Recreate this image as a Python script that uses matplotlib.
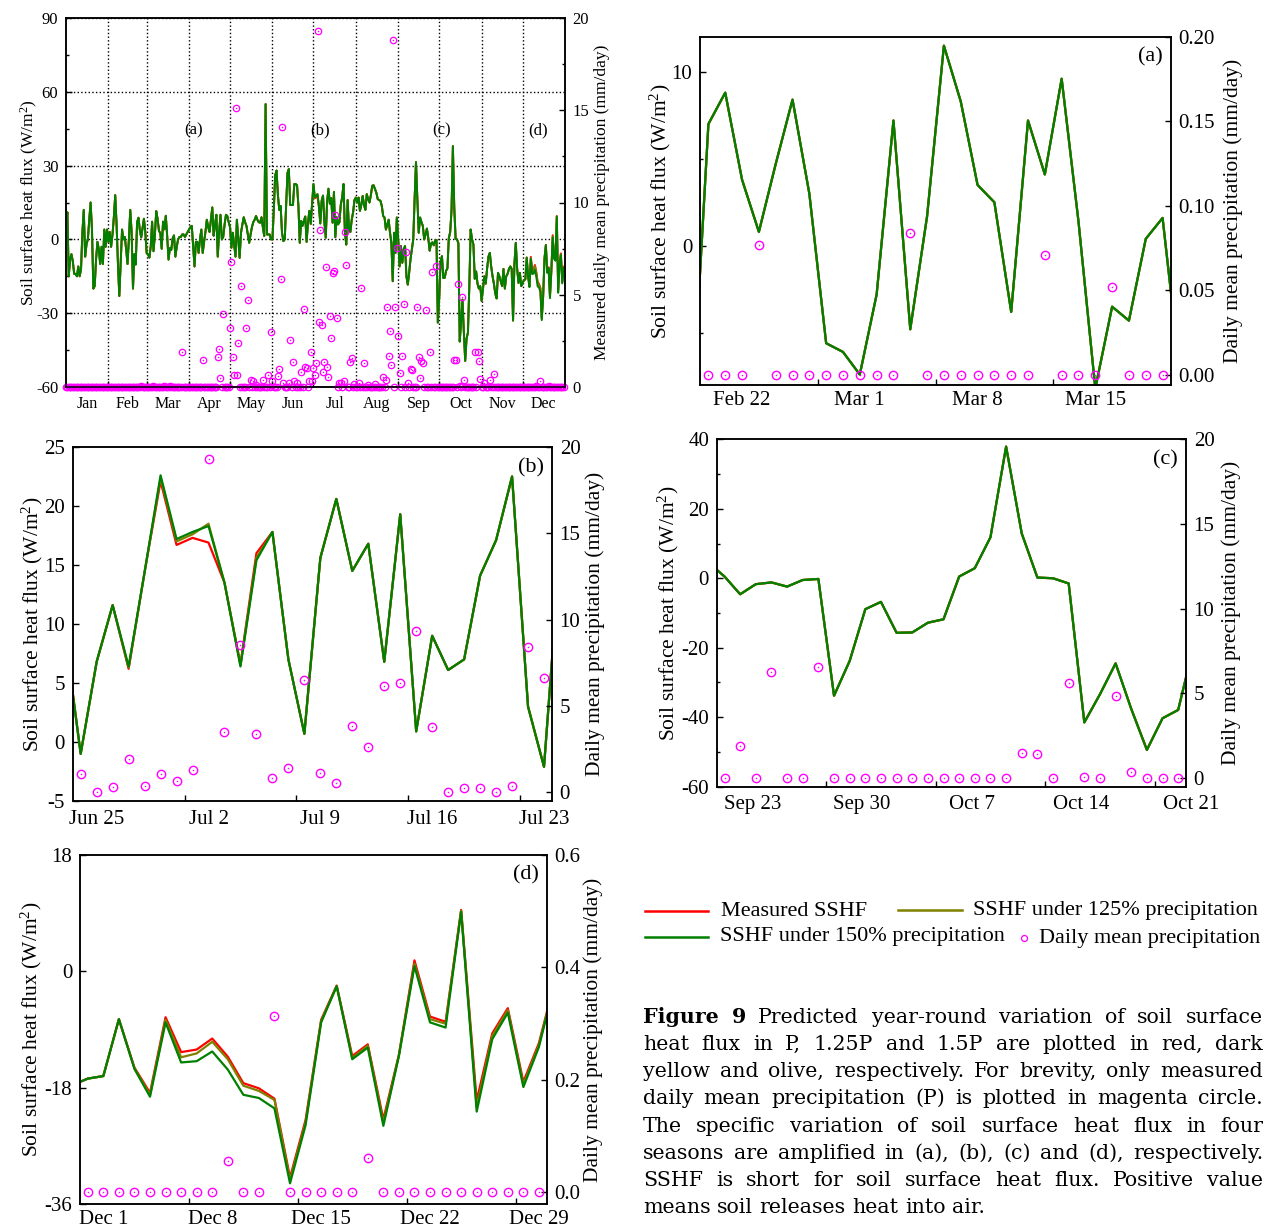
import numpy as np
import matplotlib
matplotlib.use("Agg")
import matplotlib.pyplot as plt
from matplotlib.lines import Line2D
from matplotlib.ticker import MultipleLocator, FormatStrFormatter

plt.rcParams['font.family'] = ['Liberation Serif', 'DejaVu Serif']
plt.rcParams['mathtext.fontset'] = 'custom'
plt.rcParams['mathtext.rm'] = 'Liberation Serif'
plt.rcParams['mathtext.it'] = 'Liberation Serif:italic'
plt.rcParams['axes.unicode_minus'] = False
plt.rcParams['axes.linewidth'] = 1.1

RED, OLIVE, GREEN, MAGENTA = '#ff0000', '#808000', '#008000', '#ff00ff'

# ---------------- year-round daily series (day 0 = Jan 1) ----------------
year_sshf = np.array([
    5, 11, -15, -8, -6, -9, -14, -14, -15, -11,
    -15, -12, 3, 12, -7, -2, 0, 8, 15, 4,
    -20, -19, -8, -1, -4, -10, -3, -10, 4, -3,
    4, -1, 3, -3, 2, 9, 18, 6, -10, -23,
    -10, 4, 0, 1, -4, -10, 0, 12, 3, -20,
    -6, -10.2, 7.0, 8.8, 3.8, 0.8, 4.7, 8.4, 3.0, -5.6,
    -6.1, -7.4, -2.8, 7.2, -4.8, 1.7, 11.5, 8.3, 3.5, 2.5,
    -3.8, 7.2, 4.1, 9.6, 1.4, -8.2, -3.5, -4.3, 0.4, 1.6,
    -7.0, -3, 0, 1, 1, 2, 2, 1, 2, 3,
    4, 5, 5.5, -3, -11, -1, -1, -5.5, 0, 4,
    -5.5, -1, 3, 8, 5, 3, 8, 13, 1.5, 6,
    10, -7, 3, 10, 0, 1, 6, 10, 9.5, 7,
    5, -3.4, 2.7, -2, -7, 8, 0, -7.5, 2.7, 6,
    9, 7, 5.5, 2, -1.4, 2, 5, 7, 8, 9.5,
    8, 7, 6.8, 9, 5, 1.4, 55, 2, 2, 2,
    0, 0, 12, 26, 28, 18, 12, 13.6, 2.7, -0.7,
    0, 13, 27, 28.6, 14, 14, 14, 22.5, 22.5, 22,
    13.6, -1.4, 7.5, 5.5, 7.5, 9.3, -1.0, 6.8, 11.6, 6.2,
    14.4, 22.1, 16.7, 17.3, 16.9, 13.5, 6.6, 16.0, 17.8, 7.0,
    0.7, 15.6, 20.6, 14.5, 16.8, 6.8, 19.3, 0.9, 9.0, 6.1,
    7.0, 14.1, 17.1, 22.5, 3.0, -2.1, 16.0, 4, 3, 8,
    11, 16, 17, 15, 17, 11.6, 14, 17.7, 14, 12,
    18.4, 16.4, 15, 18, 21.8, 22, 20.5, 19, 16.4, 16,
    15.7, 13.6, 9.5, 8.9, 4, 6, 8, 2.7, -1.4, -17,
    2.7, -5.5, 8.9, 0, -11, -2.7, -9.5, -4, -2.7, -15,
    -18.4, -13.6, -8, -4, 0, 16.4, 31.4, 16.4, 2.7, 8.9,
    7, 5.5, 0, 2, 4.4, 0.5, -4.6, -1.7, -1.2, -2.4,
    -0.5, -0.2, -33.8, -23.8, -8.9, -6.8, -15.7, -15.6, -12.8, -11.8,
    0.5, 2.9, 11.8, 37.9, 12.9, 0.2, 0.0, -1.5, -41.5, -33.4,
    -24.5, -37.6, -49.4, -40.3, -37.9, -19.3, 4, 0, -2, -16,
    -13, -18, -20, -19, -25, -20, -15, -18, -12, -7,
    -5.5, -11, -15, -18, -22, -24, -13.6, -15, -17, -19,
    -12, -20, -15, -14, -12, -11, -12, -33, -10, -1.4,
    -12, -17.7, -13.6, -19, -17.6, -16.6, -16.2, -7.4, -14.9, -18.8,
    -7.1, -12.5, -12.1, -10.4, -13.2, -17.3, -18.1, -19.7, -31.9, -23.0,
    -7.5, -2.2, -13.1, -11.3, -22.9, -12.9, 1.7, -7.0, -7.8, 9.5,
    -20.0, -9.6, -5.7, -17.1, -11.1,
])

# days with recorded rain and the amount (mm/day); other days are 0
rain_day = [55, 64, 72, 76, 85, 100, 111, 112, 113, 115,
            120, 121, 122, 123, 124, 125, 126, 128, 132, 133, 135, 137, 139,
            144, 148, 150, 151, 155, 156, 157, 158, 159, 163, 164, 166, 167,
            169, 172, 174, 175,
            176, 177, 178, 179, 180, 181, 182, 183, 184, 185, 186, 187, 188,
            189, 190, 191, 192, 193, 194, 195, 196, 197, 198, 200, 201, 203,
            204, 205,
            208, 209, 211, 214, 216, 218, 221, 226, 232, 234, 235, 236, 237,
            238, 239, 241, 242, 243, 244, 246, 247, 249, 250, 252, 253, 257,
            258, 259, 260, 261, 263,
            266, 268, 271, 284, 285, 287, 288, 290, 291,
            299, 301, 302, 303, 306, 310, 313, 344, 347, 353]
rain_mm = [0.08, 0.08, 0.07, 0.05, 1.87, 1.44, 1.65, 2.07, 0.5, 3.96,
           3.2, 6.8, 1.6, 0.65, 15.1, 0.65, 2.36, 5.47, 3.2, 4.7, 0.4, 0.3, 0.1,
           0.4, 0.65, 2.96, 0.3, 0.6, 0.96, 5.87, 14.07, 0.2, 0.24, 2.56, 1.38, 0.3,
           0.2, 0.84, 4.24, 1.1,
           1.02, 0.02, 0.31, 1.89, 0.35, 1.04, 0.64, 1.28, 19.3, 3.5, 8.52, 3.34, 0.79,
           1.37, 6.49, 1.08, 0.54, 3.85, 2.63, 6.16, 6.3, 9.33, 3.75, 0.21, 0.21, 0.35,
           8.39, 6.63,
           1.35, 1.56, 0.15, 0.2, 5.38, 1.3, 0.1, 0.15, 0.56, 0.4, 4.36, 1.7, 3.05,
           1.2, 18.8, 4.36, 7.56, 2.75, 0.75, 1.7, 4.5, 7.3, 0.2, 1.0, 0.9, 4.35,
           1.65, 0.5, 1.4, 1.3, 4.2,
           1.9, 6.25, 6.57, 1.47, 1.45, 5.6, 0.06, 4.86, 0.39,
           1.87, 1.87, 1.4, 0.44, 0.2, 0.38, 0.7, 0.06, 0.31, 0.06]

months = ['Jan', 'Feb', 'Mar', 'Apr', 'May', 'Jun', 'Jul', 'Aug', 'Sep', 'Oct', 'Nov', 'Dec']
month_start = [0, 31, 59, 90, 120, 151, 181, 212, 243, 273, 304, 334, 365]

# ---------------- zoomed windows (day index, -1 and last are partly outside) ----------------
# (a) Feb 20 - Mar 19
a_sshf = [-10.2, 7.0, 8.8, 3.8, 0.8, 4.7, 8.4, 3.0, -5.6, -6.1, -7.4, -2.8, 7.2, -4.8, 1.7,
          11.5, 8.3, 3.5, 2.5, -3.8, 7.2, 4.1, 9.6, 1.4, -8.2, -3.5, -4.3, 0.4, 1.6, -7.0]
a_rain = [0, 0, 0, 0.077, 0, 0, 0, 0, 0, 0, 0, 0, 0.084, 0, 0, 0, 0, 0, 0, 0,
          0.071, 0, 0, 0, 0.052, 0, 0, 0]
a_dates = ['Feb 22', 'Mar 1', 'Mar 8', 'Mar 15']
a_date_idx = [2, 9, 16, 23]

# (b) Jun 24 - Jul 23
b_sshf = [9.3, -1.0, 6.8, 11.6, 6.2, 14.4, 22.1, 16.7, 17.3, 16.9, 13.5, 6.6, 16.0, 17.8, 7.0, 0.7,
          15.6, 20.6, 14.5, 16.8, 6.8, 19.3, 0.9, 9.0, 6.1, 7.0, 14.1, 17.1, 22.5, 3.0, -2.1, 16.0]
b_sshf_125 = [9.3, -1.0, 6.8, 11.6, 6.3, 14.4, 22.4, 17.0, 17.6, 18.5, 13.5, 6.5, 15.6, 17.8, 7.0, 0.7,
              15.6, 20.6, 14.5, 16.8, 6.8, 19.3, 0.9, 9.0, 6.1, 7.0, 14.1, 17.1, 22.5, 3.0, -2.1, 16.0]
b_sshf_150 = [9.3, -1.0, 6.8, 11.6, 6.4, 14.4, 22.6, 17.2, 17.8, 18.3, 13.5, 6.4, 15.4, 17.8, 7.0, 0.7,
              15.6, 20.6, 14.5, 16.8, 6.8, 19.3, 0.9, 9.0, 6.1, 7.0, 14.1, 17.1, 22.5, 3.0, -2.1, 16.0]
b_rain = [1.02, 0.02, 0.31, 1.89, 0.35, 1.04, 0.64, 1.28, 19.3, 3.5, 8.52, 3.34, 0.79, 1.37, 6.49,
          1.08, 0.54, 3.85, 2.63, 6.16, 6.3, 9.33, 3.75, 0, 0.21, 0.21, 0, 0.35, 8.39, 6.63]
b_dates = ['Jun 25', 'Jul 2', 'Jul 9', 'Jul 16', 'Jul 23']
b_date_idx = [1, 8, 15, 22, 29]

# (c) Sep 21 - Oct 20
c_sshf = [4.4, 0.5, -4.6, -1.7, -1.2, -2.4, -0.5, -0.2, -33.8, -23.8, -8.9, -6.8, -15.7, -15.6,
          -12.8, -11.8, 0.5, 2.9, 11.8, 37.9, 12.9, 0.2, 0.0, -1.5, -41.5, -33.4, -24.5, -37.6,
          -49.4, -40.3, -37.9, -19.3]
c_rain = [0, 1.9, 0, 6.25, 0, 0, 6.57, 0, 0, 0, 0, 0, 0, 0, 0, 0, 0, 0, 0, 1.47, 1.45, 0, 5.6,
          0.06, 0, 4.86, 0.39, 0, 0, 0]
c_dates = ['Sep 23', 'Sep 30', 'Oct 7', 'Oct 14', 'Oct 21']
c_date_idx = [1.8, 8.8, 15.8, 22.8, 29.8]

# (d) Nov 30 - Dec 29
d_sshf = [-17.6, -16.6, -16.2, -7.4, -14.9, -18.8, -7.1, -12.5, -12.1, -10.4, -13.2, -17.3, -18.1,
          -19.7, -31.9, -23.0, -7.5, -2.2, -13.1, -11.3, -22.9, -12.9, 1.7, -7.0, -7.8, 9.5, -20.0,
          -9.6, -5.7, -17.1, -11.1, -1.7]
d_sshf_125 = [-17.6, -16.6, -16.2, -7.4, -15.0, -19.1, -7.5, -13.3, -12.7, -10.9, -13.6, -17.7, -18.5,
              -19.9, -32.3, -23.4, -7.7, -2.3, -13.4, -11.5, -23.4, -13.0, 1.2, -7.4, -8.1, 9.4, -21.0,
              -10.0, -6.0, -17.5, -11.4, -1.9]
d_sshf_150 = [-17.6, -16.6, -16.2, -7.4, -15.1, -19.4, -7.9, -14.1, -13.9, -12.4, -15.2, -19.1, -19.6,
              -21.2, -32.8, -23.8, -7.9, -2.3, -13.6, -11.8, -23.9, -13.1, 0.8, -7.9, -8.7, 9.2, -21.7,
              -10.5, -6.4, -17.9, -11.7, -2.0]
d_rain = [0, 0, 0, 0, 0, 0, 0, 0, 0, 0.056, 0, 0, 0.314, 0, 0, 0, 0, 0, 0.06, 0, 0, 0, 0, 0, 0, 0,
          0, 0, 0, 0]
d_dates = ['Dec 1', 'Dec 8', 'Dec 15', 'Dec 22', 'Dec 29']
d_date_idx = [1, 8, 15, 22, 29]

# scenario runs for the whole year: identical to measured outside the (b) and (d) windows
year_125 = year_sshf.astype(float).copy()
year_150 = year_sshf.astype(float).copy()
year_125[175:207] = b_sshf_125
year_150[175:207] = b_sshf_150
year_125[334:365] = d_sshf_125[:31]
year_150[334:365] = d_sshf_150[:31]
year_rain = np.zeros(365)
year_rain[rain_day] = rain_mm

W, H = 1266, 1229
fig = plt.figure(figsize=(W / 100, H / 100), dpi=100)


def box(x0, y0, x1, y1):
    return [x0 / W, 1 - y1 / H, (x1 - x0) / W, (y1 - y0) / H]


def style(ax, fs, side):
    ax.tick_params(which='both', direction='in', top=False, labelsize=fs, pad=5.5, width=1.0,
                   left=(side == 'left'), right=(side == 'right'))
    ax.tick_params(which='major', length=4.5)
    ax.tick_params(which='minor', length=2.5)


def rain_marks(ax, x, y, ms, mew):
    ax.plot(x, y, ls='none', marker='o', ms=ms, mfc='none', mec=MAGENTA, mew=mew, clip_on=False)
    ax.plot(x, y, ls='none', marker='o', ms=1.1, mfc=MAGENTA, mec=MAGENTA, mew=0, clip_on=False)


LEFT_LABEL = 'Soil surface heat flux (W/m$^{\\mathrm{2}}$)'

# ---------------- year-round panel ----------------
ax = fig.add_axes(box(66, 18, 565, 387))
days = np.arange(365)
ax.plot(days, year_sshf, color=RED, lw=1.4)
ax.plot(days, year_125, color=OLIVE, lw=1.4)
ax.plot(days, year_150, color=GREEN, lw=1.4)
ax.set_xlim(0, 365)
ax.set_ylim(-60, 90)
ax.set_yticks(np.arange(-60, 91, 30))
ax.yaxis.set_minor_locator(MultipleLocator(15))
ax.set_xticks(month_start[1:-1])
ax.set_xticklabels([])
ax.grid(True, which='major', ls=':', color='k', lw=1.0)
style(ax, 12, 'left')
for i, m in enumerate(months):
    ax.annotate(m, ((month_start[i] + month_start[i + 1]) / 2, 0),
                xycoords=('data', 'axes fraction'), xytext=(0, -12.2),
                textcoords='offset points', ha='center', va='center', fontsize=11.5)
for lab, d in zip(['(a)', '(b)', '(c)', '(d)'], [93.6, 185.8, 274.4, 345.3]):
    ax.text(d, 44.5, lab, ha='center', va='center', fontsize=12)
ax.text(-0.073, 0.5, LEFT_LABEL, transform=ax.transAxes, rotation=90,
        ha='center', va='center', fontsize=12.5)
ax2 = ax.twinx()
ax2.set_ylim(0, 20)
ax2.set_yticks(np.arange(0, 21, 5))
ax2.yaxis.set_minor_locator(MultipleLocator(2.5))
style(ax2, 12, 'right')
rain_marks(ax2, days, year_rain, 4.6, 0.9)
ax2.text(1.0735, 0.5, 'Measured daily mean precipitation (mm/day)', transform=ax2.transAxes,
         rotation=90, ha='center', va='center', fontsize=12.5)


# ---------------- zoomed panels ----------------
def panel(rect, ndays, red, olive, green, rain, ylim, yticks, yminor, ylim2, yticks2, fmt2,
          date_idx, dates, letter, lx, rx, date_off):
    ax = fig.add_axes(rect)
    xl = np.arange(-1, len(red) - 1)
    ax.plot(xl, red, color=RED, lw=1.6)
    ax.plot(xl, olive, color=OLIVE, lw=1.6)
    ax.plot(xl, green, color=GREEN, lw=1.6)
    ax.set_xlim(-0.5, ndays - 0.5)
    ax.set_ylim(*ylim)
    ax.set_yticks(yticks)
    if yminor is not None:
        ax.set_yticks(yminor, minor=True)
    ax.set_xticks([t for t in [6.5, 13.5, 20.5, 27.5] if t < ndays - 0.6])
    ax.set_xticklabels([])
    style(ax, 15, 'left')
    for p, s in zip(date_idx, dates):
        ax.annotate(s, (p, 0), xycoords=('data', 'axes fraction'), xytext=(0, date_off),
                    textcoords='offset points', ha='center', va='center', fontsize=15,
                    annotation_clip=False)
    ax.text(lx, 0.5, LEFT_LABEL, transform=ax.transAxes, rotation=90,
            ha='center', va='center', fontsize=15.5)
    a2 = ax.twinx()
    a2.set_ylim(*ylim2)
    a2.set_yticks(yticks2)
    a2.yaxis.set_major_formatter(FormatStrFormatter(fmt2))
    style(a2, 15, 'right')
    rain_marks(a2, np.arange(len(rain)), rain, 6.0, 1.0)
    a2.text(rx, 0.5, 'Daily mean precipitation (mm/day)', transform=a2.transAxes,
            rotation=90, ha='center', va='center', fontsize=15.5)
    a2.text(0.983, 0.942, letter, transform=a2.transAxes, ha='right', va='center', fontsize=16)


panel(box(700, 37, 1171, 385), 28, a_sshf, a_sshf, a_sshf, a_rain,
      (-8, 12), [0, 10], [-5, 5], (-0.006, 0.2), np.arange(0, 0.201, 0.05), '%.2f',
      a_date_idx, a_dates, '(a)', -0.085, 1.132, -11.5)
panel(box(72.7, 447, 552, 801), 30, b_sshf, b_sshf_125, b_sshf_150, b_rain,
      (-5, 25), np.arange(-5, 26, 5), None, (-0.52, 20), np.arange(0, 21, 5), '%d',
      b_date_idx, b_dates, '(b)', -0.084, 1.09, -13)
panel(box(716.7, 439.3, 1186, 786.7), 30, c_sshf, c_sshf, c_sshf, c_rain,
      (-60, 40), np.arange(-60, 41, 20), np.arange(-50, 40, 20), (-0.5, 20), np.arange(0, 21, 5), '%d',
      c_date_idx, c_dates, '(c)', -0.102, 1.096, -12.6)
panel(box(80, 855, 546.7, 1204), 30, d_sshf, d_sshf_125, d_sshf_150, d_rain,
      (-36, 18), [-36, -18, 0, 18], None, (-0.021, 0.6), [0, 0.2, 0.4, 0.6], '%.1f',
      d_date_idx, d_dates, '(d)', -0.105, 1.099, -11)


# ---------------- legend ----------------
def fx(x):
    return x / W


def fy(y):
    return 1 - y / H


for x0, x1, y, c, txt, tx in [(645, 708, 911, RED, 'Measured SSHF', 721),
                              (898, 962, 910, OLIVE, 'SSHF under 125% precipitation', 973),
                              (645, 708, 937, GREEN, 'SSHF under 150% precipitation', 720)]:
    fig.add_artist(Line2D([fx(x0), fx(x1)], [fy(y), fy(y)], color=c, lw=1.8))
    fig.text(fx(tx), fy(y), txt, fontsize=16, va='center', ha='left')
fig.add_artist(Line2D([fx(1024)], [fy(938)], ls='none', marker='o', ms=4.3, mfc='none',
                      mec=MAGENTA, mew=0.9))
fig.text(fx(1039), fy(938), 'Daily mean precipitation', fontsize=16, va='center', ha='left')

# ---------------- caption, justified ----------------
CAP_FONT = 'DejaVu Serif'
CAP_FS = 14.8
caption = [
    "Figure 9 Predicted year-round variation of soil surface",
    "heat flux in P, 1.25P and 1.5P are plotted in red, dark",
    "yellow and olive, respectively. For brevity, only measured",
    "daily mean precipitation (P) is plotted in magenta circle.",
    "The specific variation of soil surface heat flux in four",
    "seasons are amplified in (a), (b), (c) and (d), respectively.",
    "SSHF is short for soil surface heat flux. Positive value",
    "means soil releases heat into air.",
]
cap_base = [1023, 1050, 1077, 1104, 1132, 1159, 1186, 1213]
renderer = fig.canvas.get_renderer()
t1 = fig.text(0, 0, 'n n', fontsize=CAP_FS, family=CAP_FONT)
t2 = fig.text(0, 0, 'nn', fontsize=CAP_FS, family=CAP_FONT)
space_w = t1.get_window_extent(renderer).width - t2.get_window_extent(renderer).width
t1.remove()
t2.remove()
for i, (line, yb) in enumerate(zip(caption, cap_base)):
    words = line.split()
    texts = []
    for j, w in enumerate(words):
        bold = (i == 0 and j < 2)
        texts.append(fig.text(0, fy(yb), w, fontsize=CAP_FS, family=CAP_FONT,
                              fontweight='bold' if bold else 'normal', va='baseline', ha='left'))
    widths = [t.get_window_extent(renderer).width for t in texts]
    if i == len(caption) - 1:
        gap = space_w
    else:
        gap = max((1263 - 643 - sum(widths)) / (len(words) - 1), 0.4 * space_w)
    x = 643
    for t, w in zip(texts, widths):
        t.set_x(fx(x))
        x += w + gap

fig.savefig('out.png', dpi=100)
